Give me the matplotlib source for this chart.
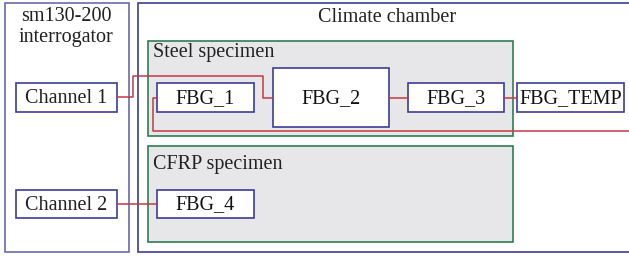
"""Block diagram of the FBG measurement setup."""
import matplotlib.pyplot as plt
from matplotlib.patches import Rectangle

# labels
container_labels = ["sm130-200\ninterrogator", "Climate chamber"]
specimen_labels = ["Steel specimen", "CFRP specimen"]
channel_labels = ["Channel 1", "Channel 2"]
sensor_labels = ["FBG_1", "FBG_2", "FBG_3", "FBG_TEMP", "FBG_4"]

BLUE = "#3d3d95"
BLUE_LIGHT = "#6a6ab0"
GREEN = "#2f7d55"
RED = "#c23a44"
GRAY = "#e7e7e9"
FONT = ["Liberation Serif", "DejaVu Serif"]
FS = 14.5

fig = plt.figure(figsize=(6.29, 2.58), dpi=100)
ax = fig.add_axes([0, 0, 1, 1])
ax.set_xlim(0, 629)
ax.set_ylim(258, 0)
ax.axis("off")


def box(x0, y0, x1, y1, ec, fc="white", lw=1.2, z=2):
    ax.add_patch(Rectangle((x0, y0), x1 - x0, y1 - y0, ec=ec, fc=fc, lw=lw, zorder=z))


def label(x, y, s, ha="center", color="#222222", ls=1.0):
    ax.text(x, y, s, ha=ha, va="center", fontsize=FS, family=FONT, color=color,
            zorder=5, linespacing=ls)


# outer containers
box(5, 3, 129, 252, BLUE_LIGHT, z=1)
box(138, 3, 640, 252, BLUE, z=1)
label(66, 27, container_labels[0], ls=1.1)
label(387, 18, container_labels[1])

# specimens
box(148, 41, 513, 136, GREEN, fc=GRAY, z=1)
box(148, 146, 513, 242, GREEN, fc=GRAY, z=1)
label(153, 53, specimen_labels[0], ha="left")
label(153, 164, specimen_labels[1], ha="left")

# channels
for (y0, y1), name in zip([(83, 112), (190, 218)], channel_labels):
    box(16, y0, 117, y1, BLUE)
    label(66.5, (y0 + y1) / 2 + 1, name)

# sensors
sensor_boxes = [(157, 83, 254, 112), (273, 68, 389, 127), (408, 83, 504, 112),
                (517, 83, 624, 112), (157, 190, 254, 218)]
for (x0, y0, x1, y1), name in zip(sensor_boxes, sensor_labels):
    box(x0, y0, x1, y1, BLUE)
    label((x0 + x1) / 2, (y0 + y1) / 2 + 1, name, color="#111111")

# fibre routing
paths = [
    ([117, 133, 133, 263, 263, 273], [97, 97, 76, 76, 98, 98]),
    ([157, 153, 153, 640], [98, 98, 131, 131]),
    ([389, 408], [98, 98]),
    ([504, 517], [98, 98]),
    ([117, 157], [204, 204]),
]
for xs, ys in paths:
    ax.plot(xs, ys, color=RED, lw=1.1, zorder=3)

fig.savefig("out.png", dpi=100)
